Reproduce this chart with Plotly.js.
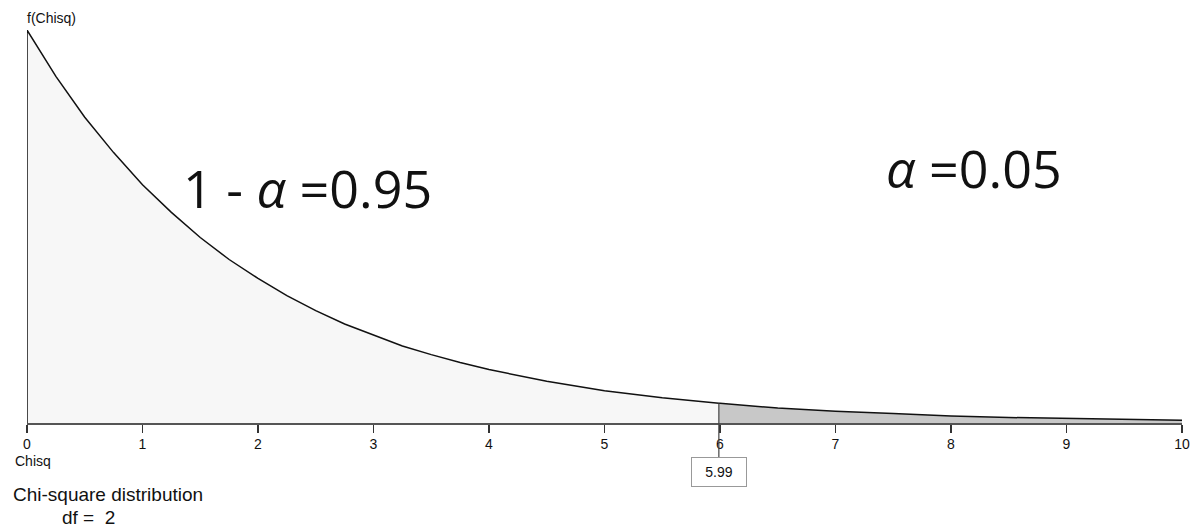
<!DOCTYPE html>
<html><head><meta charset="utf-8">
<script src="https://cdn.plot.ly/plotly-3.0.1.min.js"></script>
<style>html,body{margin:0;padding:0;background:#fff}#chart{width:1203px;height:529px}</style>
</head><body><div id="chart"></div>
<script>
// Chi-square density (df = 2)
const chisqX = [0, 0.25, 0.5, 0.75, 1, 1.25, 1.5, 1.75, 2, 2.25, 2.5, 2.75, 3, 3.25, 3.5, 3.75, 4, 4.5, 5, 5.5, 5.99, 6, 6.5, 7, 7.5, 8, 8.5, 9, 9.5, 10];
const densityY = [0.5, 0.441, 0.389, 0.344, 0.303, 0.268, 0.236, 0.208, 0.184, 0.162, 0.143, 0.126, 0.112, 0.098, 0.087, 0.077, 0.068, 0.053, 0.041, 0.032, 0.025, 0.025, 0.019, 0.015, 0.012, 0.009, 0.007, 0.0056, 0.0043, 0.0034];
const criticalValue = 5.99;
const criticalLabel = "5.99";
const tickVals = [0,1,2,3,4,5,6,7,8,9,10];
const tickText = ["0","1","2","3","4","5","6","7","8","9","10"];
const leftLabel = "1 - <i>α</i> =0.95";
const rightLabel = "<i>α</i> =0.05";

const leftX = [], leftY = [], rightX = [], rightY = [];
chisqX.forEach((x, i) => {
  if (x <= criticalValue) { leftX.push(x); leftY.push(densityY[i]); }
  if (x >= criticalValue) { rightX.push(x); rightY.push(densityY[i]); }
});

const traces = [
  {x: leftX, y: leftY, type: 'scatter', mode: 'lines', fill: 'tozeroy', fillcolor: '#f7f7f7', line: {width: 0, color: 'rgba(0,0,0,0)'}, hoverinfo: 'skip'},
  {x: rightX, y: rightY, type: 'scatter', mode: 'lines', fill: 'tozeroy', fillcolor: '#c8c8c8', line: {width: 0, color: 'rgba(0,0,0,0)'}, hoverinfo: 'skip'},
  {x: [0].concat(chisqX), y: [0].concat(densityY), type: 'scatter', mode: 'lines', line: {color: '#111', width: 1.5}, hoverinfo: 'skip'}
];

const sans = 'Liberation Sans, Arial, sans-serif';
const layout = {
  width: 1203, height: 529,
  margin: {l: 27, r: 21, t: 30, b: 106},
  paper_bgcolor: '#fff', plot_bgcolor: '#fff',
  showlegend: false,
  xaxis: {range: [0, 10], tickvals: tickVals, ticktext: tickText, ticks: 'outside', ticklen: 8, tickwidth: 1.5, tickcolor: '#333',
    showline: true, linecolor: '#555', linewidth: 1.5, showgrid: false, zeroline: false, tickfont: {family: sans, size: 14, color: '#111'}, fixedrange: true},
  yaxis: {range: [0, 0.5], visible: false, showgrid: false, zeroline: false, fixedrange: true},
  shapes: [
    {type: 'line', xref: 'x', yref: 'y', x0: criticalValue, x1: criticalValue, y0: 0, y1: densityY[chisqX.indexOf(criticalValue)], line: {color: '#444', width: 1.2}},
    {type: 'line', xref: 'x', yref: 'paper', x0: criticalValue, x1: criticalValue, y0: 0, y1: -0.09, line: {color: '#444', width: 1.2}}
  ],
  annotations: [
    {text: 'f(Chisq)', xref: 'paper', yref: 'paper', x: 0, y: 1, xanchor: 'left', yanchor: 'bottom', xshift: -2, yshift: 2, showarrow: false, font: {family: sans, size: 14, color: '#111'}},
    {text: 'Chisq', xref: 'paper', yref: 'paper', x: 0, y: 0, xanchor: 'left', yanchor: 'top', xshift: -14, yshift: -28, showarrow: false, font: {family: sans, size: 14, color: '#111'}},
    {text: 'Chi-square distribution', xref: 'paper', yref: 'paper', x: 0, y: 0, xanchor: 'left', yanchor: 'top', xshift: -16, yshift: -59, showarrow: false, font: {family: sans, size: 19, color: '#111'}},
    {text: 'df =  2', xref: 'paper', yref: 'paper', x: 0, y: 0, xanchor: 'left', yanchor: 'top', xshift: 33, yshift: -82, showarrow: false, font: {family: sans, size: 19, color: '#111'}},
    {text: criticalLabel, xref: 'x', yref: 'paper', x: criticalValue, y: 0, xanchor: 'center', yanchor: 'top', yshift: -34, showarrow: false,
      bordercolor: '#999', borderwidth: 1, borderpad: 6, bgcolor: '#fff', width: 42, font: {family: sans, size: 14, color: '#111'}},
    {text: leftLabel, xref: 'x', yref: 'y', x: 2.43, y: 0.3, xanchor: 'center', yanchor: 'middle', showarrow: false, font: {family: 'Open Sans, sans-serif', size: 52, color: '#111'}},
    {text: rightLabel, xref: 'x', yref: 'y', x: 8.2, y: 0.325, xanchor: 'center', yanchor: 'middle', showarrow: false, font: {family: 'Open Sans, sans-serif', size: 52, color: '#111'}}
  ]
};
Plotly.newPlot('chart', traces, layout, {displayModeBar: false, staticPlot: true});
</script></body></html>
